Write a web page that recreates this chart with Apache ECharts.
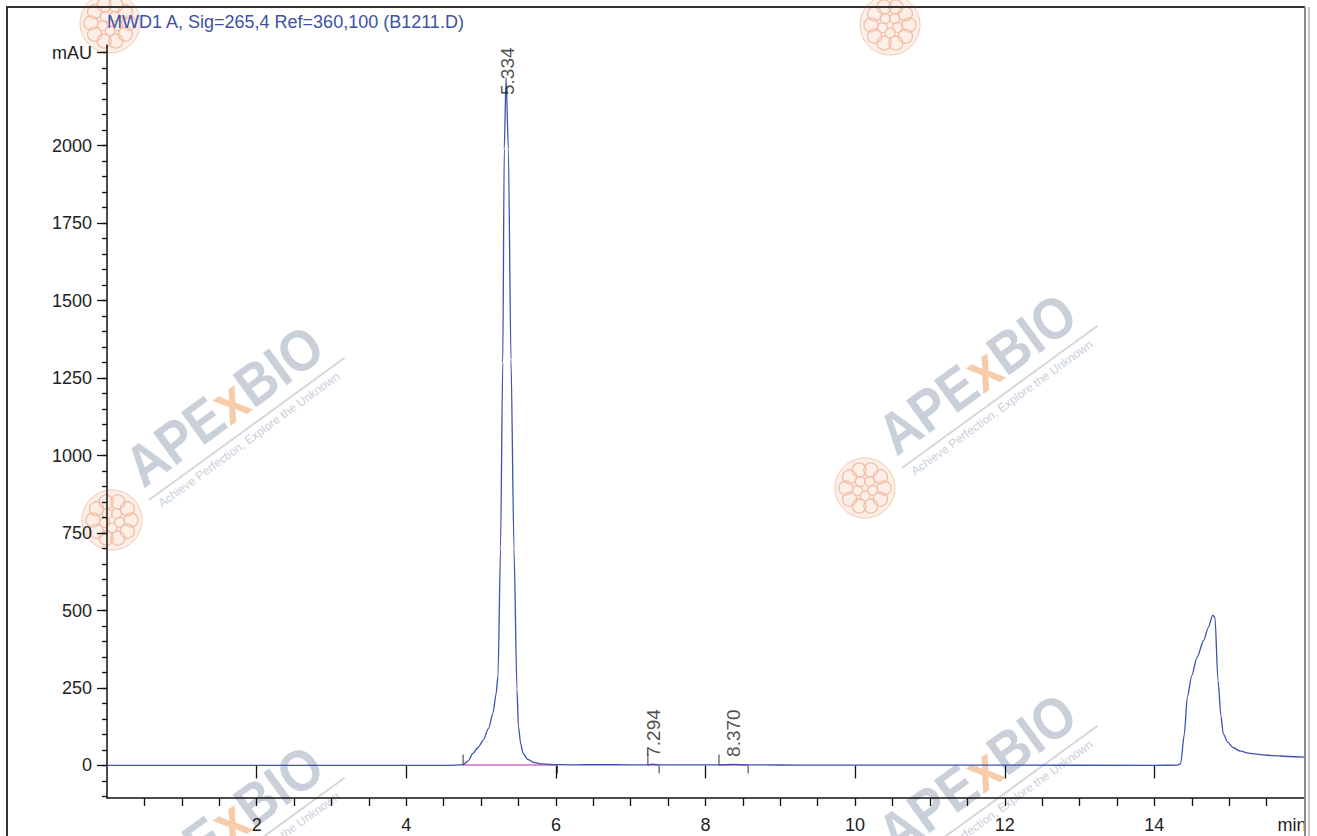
<!DOCTYPE html>
<html><head><meta charset="utf-8">
<script src="https://cdn.jsdelivr.net/npm/echarts@6/dist/echarts.min.js"></script>
<style>html,body{margin:0;padding:0;background:#fff}#c{width:1317px;height:836px}</style>
</head><body><div id="c"></div>
<script>
// ---------- data ----------
const titleText = 'MWD1 A, Sig=265,4 Ref=360,100 (B1211.D)';
const rtMin = [0, 2, 4, 4.5, 4.65, 4.76, 4.83, 4.89, 4.96, 5.03, 5.10, 5.16, 5.20, 5.227, 5.26, 5.29, 5.31, 5.334, 5.365, 5.40, 5.44, 5.48, 5.50, 5.53, 5.56, 5.62, 5.70, 5.80, 5.95, 6.2, 6.6, 7.0, 7.2, 7.294, 7.38, 8.0, 8.2, 8.37, 8.55, 9.0, 9.5, 10, 12, 14, 14.30, 14.35, 14.40, 14.44, 14.50, 14.57, 14.66, 14.72, 14.78, 14.81, 14.85, 14.89, 14.92, 14.98, 15.05, 15.15, 15.28, 15.45, 15.59, 15.8, 16.0];
const absMAU = [0, 0, 0, 0, 1, 3, 15, 39, 58, 82, 120, 170, 230, 290, 700, 1300, 1990, 2220, 1990, 1310, 700, 245, 125, 70, 40, 20, 10, 5, 3, 2, 2.5, 2, 2, 4, 2, 2, 2, 3.5, 2, 1.5, 1, 1, 1, 0.5, 1, 5, 100, 220, 290, 349, 404, 445, 485, 478, 275, 160, 103, 75, 58, 46, 39, 34, 32, 29, 27];
const peakTimes = [5.334, 7.294, 8.370];
const peakHeights = [2220, 4, 3.5];
const integStart = [4.76, 7.23, 8.18];
const integEnd = [6.02, 7.38, 8.57];
const xLabelValues = [2, 4, 6, 8, 10, 12, 14];
const xUnitLabel = 'min';
const xUnitValue = 16;
const yLabelValues = [0, 250, 500, 750, 1000, 1250, 1500, 1750, 2000];
const yUnitLabel = 'mAU';
const yUnitValue = 2300;

// ---------- chart ----------
const FONT = "'Liberation Sans', Arial, sans-serif";
const X_MIN = 0, X_MAX = 16, Y_MIN = -105, Y_MAX = 2325;

const xMinorTicks = [];
for (let v = 0.5; v < X_MAX; v += 0.5) xMinorTicks.push(+v.toFixed(1));
const yMinorTicks = [];
for (let v = -100; v <= 2300; v += 50) yMinorTicks.push(v);
const yMajorTicks = yLabelValues.concat([yUnitValue]);

// peak label placement (px, relative to apex anchor)
const peakLabelPos = [[2, 18], [1, -7], [1, -7]];

function blob(cx, cy) {
  const kids = [{type: 'circle', shape: {cx: 0, cy: 0, r: 30}, style: {fill: '#fcefe8', stroke: '#f4c9b6', lineWidth: 1}}];
  for (let i = 0; i < 10; i++) {
    const a = i * Math.PI / 5;
    kids.push({type: 'circle', shape: {cx: Math.cos(a) * 19, cy: Math.sin(a) * 19, r: 7}, style: {fill: 'none', stroke: '#f2bea6', lineWidth: 1.3}});
  }
  for (let i = 0; i < 5; i++) {
    const a = i * 2 * Math.PI / 5 + 0.3;
    kids.push({type: 'circle', shape: {cx: Math.cos(a) * 8, cy: Math.sin(a) * 8, r: 5}, style: {fill: 'none', stroke: '#f2bea6', lineWidth: 1.2}});
  }
  return {type: 'group', x: cx, y: cy, z: -10, silent: true, children: kids};
}
function watermark(ox, oy, withText) {
  const out = [blob(ox - 35, oy + 26)];
  if (!withText) return out;
  out.push({
    type: 'group', x: ox, y: oy, rotation: 36 * Math.PI / 180, z: -9, silent: true,
    children: [
      {type: 'text', x: 0, y: 3, scaleY: 1.12, style: {
        text: '{g|APE}{o|x}{g|BIO}', verticalAlign: 'bottom',
        rich: {
          g: {fill: '#c9d0da', fontSize: 52, fontWeight: 'bold', fontFamily: FONT},
          o: {fill: '#f7ccaa', fontSize: 52, fontWeight: 'bold', fontFamily: FONT}
        }}},
      {type: 'line', shape: {x1: -2, y1: 6, x2: 240, y2: 6}, style: {stroke: '#d2d8e0', lineWidth: 2}},
      {type: 'text', x: 4, y: 10, style: {text: 'Achieve Perfection, Explore the Unknown', fill: '#c9d0da', fontSize: 12, fontFamily: FONT, verticalAlign: 'top'}}
    ]
  });
  return out;
}

const graphics = [].concat(
  watermark(147, 494, true), watermark(900, 462, true), watermark(900, 862, true),
  watermark(147, 914, true), watermark(925, -1, false), watermark(145, -3, false),
  [
    {type: 'line', shape: {x1: 7, y1: 7, x2: 7, y2: 836}, style: {stroke: '#333', lineWidth: 2}, z: 5, silent: true},
    {type: 'line', shape: {x1: 6, y1: 7, x2: 1305, y2: 7}, style: {stroke: '#333', lineWidth: 2}, z: 5, silent: true},
    {type: 'line', shape: {x1: 1305, y1: 7, x2: 1305, y2: 836}, style: {stroke: '#8a8a8a', lineWidth: 2}, z: 5, silent: true},
    {type: 'line', shape: {x1: 1309, y1: 7, x2: 1309, y2: 836}, style: {stroke: '#c4c4c4', lineWidth: 2}, z: 5, silent: true},
    {type: 'text', x: 107, y: 22, z: 5, style: {text: titleText, fill: '#3d52a3', fontSize: 18, fontFamily: FONT, verticalAlign: 'middle'}}
  ]
);

const axisColor = '#111';
const labelColor = '#222';

const option = {
  animation: false,
  backgroundColor: '#fff',
  grid: {left: 107, right: 13, top: 45, bottom: 38, containLabel: false},
  xAxis: [
    {
      type: 'value', min: X_MIN, max: X_MAX, position: 'bottom',
      axisLine: {show: true, onZero: false, lineStyle: {color: axisColor, width: 1.5}},
      splitLine: {show: false},
      axisTick: {show: true, customValues: xMinorTicks, length: 8, lineStyle: {color: axisColor, width: 1.3}},
      axisLabel: {
        customValues: xLabelValues.concat([xUnitValue]),
        formatter: v => v === xUnitValue ? '{u|' + xUnitLabel + '}' : String(v),
        margin: 18, fontSize: 18, color: labelColor, fontFamily: FONT,
        rich: {u: {fontSize: 18, color: labelColor, fontFamily: FONT, padding: [0, 24, 0, 0]}}
      }
    },
    {
      type: 'value', min: X_MIN, max: X_MAX, position: 'bottom',
      axisLine: {show: false}, splitLine: {show: false}, axisLabel: {show: false},
      axisTick: {show: true, customValues: xLabelValues, length: 13, lineStyle: {color: axisColor, width: 1.3}}
    }
  ],
  yAxis: [
    {
      type: 'value', min: Y_MIN, max: Y_MAX, position: 'left',
      axisLine: {show: true, onZero: false, lineStyle: {color: axisColor, width: 1.5}},
      splitLine: {show: false},
      axisTick: {show: true, customValues: yMinorTicks, length: 5, lineStyle: {color: axisColor, width: 1.3}},
      axisLabel: {
        customValues: yMajorTicks,
        formatter: v => v === yUnitValue ? yUnitLabel : String(v),
        margin: 15, fontSize: 18, color: labelColor, fontFamily: FONT
      }
    },
    {
      type: 'value', min: Y_MIN, max: Y_MAX, position: 'left',
      axisLine: {show: false}, splitLine: {show: false}, axisLabel: {show: false},
      axisTick: {show: true, customValues: yMajorTicks, length: 10, lineStyle: {color: axisColor, width: 1.3}}
    }
  ],
  graphic: graphics,
  series: [
    {
      type: 'custom', coordinateSystem: 'cartesian2d', xAxisIndex: 0, yAxisIndex: 0, z: 1, silent: true,
      data: integStart.map((s, i) => [s, integEnd[i], 0]),
      encode: {x: [0, 1], y: 2},
      renderItem: (params, api) => {
        const a = api.coord([api.value(0), 0]);
        const b = api.coord([api.value(1), 0]);
        return {type: 'group', children: [
          {type: 'line', shape: {x1: a[0], y1: a[1] - 0.5, x2: b[0], y2: b[1] - 0.5}, style: {stroke: '#d36cc6', lineWidth: 1.6}},
          {type: 'line', shape: {x1: a[0], y1: a[1], x2: a[0], y2: a[1] - 11}, style: {stroke: '#333', lineWidth: 1}},
          {type: 'line', shape: {x1: b[0], y1: b[1], x2: b[0], y2: b[1] + 8}, style: {stroke: '#333', lineWidth: 1}}
        ]};
      }
    },
    {
      type: 'line', xAxisIndex: 0, yAxisIndex: 0, z: 2, silent: true,
      data: rtMin.map((t, i) => [t, absMAU[i]]),
      showSymbol: false, smooth: 0.25, smoothMonotone: 'x',
      lineStyle: {color: '#3e52ad', width: 1.3}
    },
    {
      type: 'scatter', xAxisIndex: 0, yAxisIndex: 0, z: 4, silent: true,
      symbolSize: 1, itemStyle: {color: 'rgba(0,0,0,0)'},
      data: peakTimes.map((t, i) => ({
        value: [t, peakHeights[i]],
        label: {position: peakLabelPos[i]}
      })),
      label: {
        show: true, rotate: 90, align: 'left', verticalAlign: 'middle',
        formatter: p => p.value[0].toFixed(3),
        fontSize: 19, color: labelColor, fontFamily: FONT
      }
    }
  ]
};

const chart = echarts.init(document.getElementById('c'), null, {renderer: 'svg'});
chart.setOption(option);
</script>
</body></html>
